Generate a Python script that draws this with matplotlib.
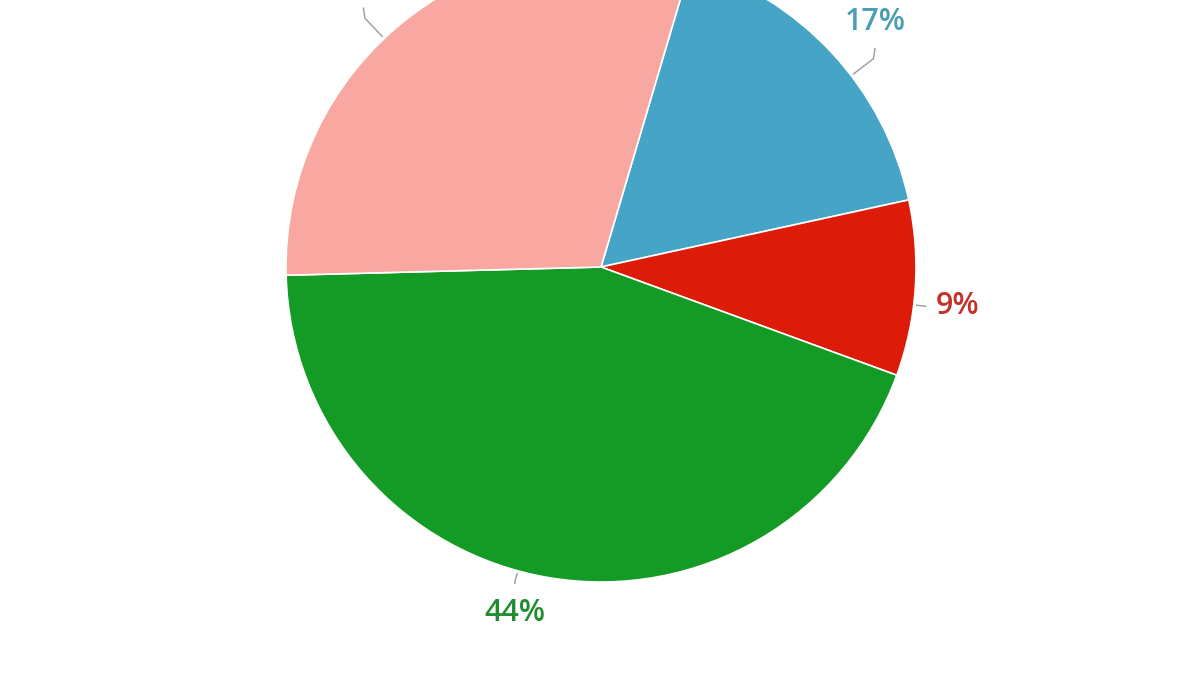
import numpy as np
import matplotlib.pyplot as plt

# slice data, clockwise from the top-right
labels = ['17%', '9%', '44%', '30%']
shares = [17, 9, 44, 30]
colors = ['#46a5c7', '#dc1b08', '#139b25', '#f8a8a0']
text_colors = ['#4b9db2', '#c4312a', '#1f8d30', '#e08c86']
# small nudges so labels sit where the original put them (degrees)
label_nudge = [-5.5, -3.0, -6.0, 6.0]

W, H = 1200, 675
cx, cy, R = 601, H - 267, 315
start = 73.5

fig = plt.figure(figsize=(12, 6.75), dpi=100)
ax = fig.add_axes([0, 0, 1, 1])
ax.pie(shares, colors=colors, startangle=start, counterclock=False,
       center=(cx, cy), radius=R,
       wedgeprops=dict(edgecolor='white', linewidth=1.2))
ax.set_xlim(0, W)
ax.set_ylim(0, H)
ax.set_aspect('equal')
ax.axis('off')

# labels with little bent connectors
cum = 0
for lab, s, tc, nudge in zip(labels, shares, text_colors, label_nudge):
    mid = start - 360 * (cum + s / 2) / 100 + nudge
    cum += s
    a = np.radians(mid)
    ca, sa = np.cos(a), np.sin(a)
    x0, y0 = cx + (R + 3) * ca, cy + (R + 3) * sa
    x1, y1 = cx + (R + 12) * ca, cy + (R + 12) * sa
    if sa > 0.3:
        # bend upwards
        x1, y1 = cx + (R + 28) * ca, cy + (R + 28) * sa
        x2, y2 = x1 + 1.5 * np.sign(ca), y1 + 10
        tx, ty, ha, va = x2, y2 + 12, 'center', 'bottom'
    elif sa < -0.3:
        x2, y2 = x1, y1 - 1
        tx, ty, ha, va = x1, y1 - 16, 'center', 'top'
    else:
        x2, y2 = x1, y1
        tx, ty, ha, va = x1 + 10 * np.sign(ca), y1, 'left' if ca > 0 else 'right', 'center'
    ax.plot([x0, x1, x2], [y0, y1, y2], color='#9a9a9a', linewidth=1, clip_on=False)
    ax.text(tx, ty, lab, color=tc, fontsize=22, family=['Open Sans', 'DejaVu Sans'],
            weight='semibold', ha=ha, va=va)

fig.savefig('out.png', dpi=100, facecolor='white')
